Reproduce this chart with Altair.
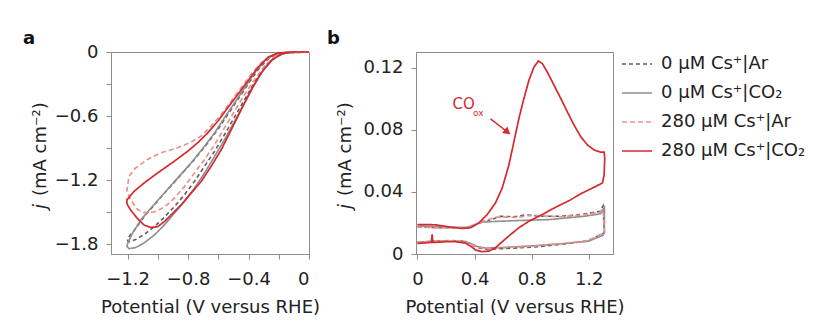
import altair as alt
import pandas as pd

FONT = "DejaVu Sans"

SERIES = ["0 μM Cs⁺|Ar", "0 μM Cs⁺|CO₂", "280 μM Cs⁺|Ar", "280 μM Cs⁺|CO₂"]
COLORS = ["#5e5e5e", "#8f8f8f", "#ee8f8f", "#d42a2e"]
DASHES = [[4, 3], [1, 0], [5, 3], [1, 0]]
WIDTHS = [1.6, 1.7, 1.8, 2.0]

# ---- panel a : (potential V, current density mA cm-2) ----
A_AR0 = [(0, 0), (-0.158, -0.009), (-0.224, -0.044), (-0.291, -0.132), (-0.358, -0.277), (-0.424, -0.44),
         (-0.491, -0.604), (-0.558, -0.77), (-0.624, -0.928), (-0.691, -1.069), (-0.758, -1.211),
         (-0.824, -1.336), (-0.891, -1.447), (-0.958, -1.547), (-1.024, -1.635), (-1.091, -1.708),
         (-1.147, -1.755), (-1.191, -1.777), (-1.2, -1.765), (-1.2, -1.745), (-1.147, -1.651),
         (-1.091, -1.541), (-1.024, -1.431), (-0.936, -1.289), (-0.847, -1.148), (-0.758, -1.006),
         (-0.669, -0.849), (-0.602, -0.723), (-0.536, -0.582), (-0.469, -0.44), (-0.402, -0.299),
         (-0.336, -0.164), (-0.269, -0.063), (-0.202, -0.016), (-0.12, -0.002), (0, 0)]
A_CO0 = [(0, 0), (-0.15, -0.008), (-0.224, -0.047), (-0.291, -0.142), (-0.358, -0.299), (-0.424, -0.472),
         (-0.491, -0.645), (-0.558, -0.818), (-0.624, -0.975), (-0.691, -1.132), (-0.758, -1.274),
         (-0.824, -1.399), (-0.891, -1.509), (-0.958, -1.619), (-1.024, -1.714), (-1.091, -1.786),
         (-1.147, -1.83), (-1.191, -1.84), (-1.205, -1.818), (-1.2, -1.792), (-1.169, -1.698),
         (-1.113, -1.572), (-1.047, -1.462), (-0.958, -1.321), (-0.869, -1.179), (-0.78, -1.038),
         (-0.691, -0.881), (-0.624, -0.755), (-0.558, -0.613), (-0.491, -0.472), (-0.424, -0.33),
         (-0.358, -0.189), (-0.291, -0.079), (-0.224, -0.019), (-0.14, -0.002), (0, 0)]
A_AR280 = [(0, 0), (-0.158, -0.009), (-0.224, -0.038), (-0.291, -0.126), (-0.358, -0.252), (-0.424, -0.393),
           (-0.491, -0.55), (-0.558, -0.708), (-0.624, -0.865), (-0.691, -1.006), (-0.758, -1.132),
           (-0.824, -1.258), (-0.891, -1.368), (-0.958, -1.453), (-1.024, -1.497), (-1.091, -1.503),
           (-1.136, -1.472), (-1.18, -1.384), (-1.205, -1.3), (-1.2, -1.25), (-1.191, -1.164),
           (-1.147, -1.085), (-1.069, -1.006), (-0.98, -0.943), (-0.869, -0.896), (-0.78, -0.843),
           (-0.713, -0.786), (-0.647, -0.692), (-0.58, -0.582), (-0.513, -0.456), (-0.447, -0.33),
           (-0.38, -0.204), (-0.313, -0.094), (-0.247, -0.031), (-0.158, -0.006), (0, 0)]
A_CO280 = [(0, 0), (-0.113, 0), (-0.18, -0.016), (-0.247, -0.079), (-0.313, -0.189), (-0.38, -0.346),
           (-0.447, -0.535), (-0.513, -0.723), (-0.58, -0.912), (-0.647, -1.069), (-0.713, -1.211),
           (-0.78, -1.321), (-0.847, -1.431), (-0.913, -1.525), (-0.958, -1.588), (-1.002, -1.635),
           (-1.047, -1.642), (-1.091, -1.619), (-1.136, -1.557), (-1.18, -1.478), (-1.205, -1.421),
           (-1.205, -1.384), (-1.158, -1.305), (-1.091, -1.226), (-1.002, -1.132), (-0.891, -1.022),
           (-0.802, -0.928), (-0.736, -0.849), (-0.669, -0.755), (-0.602, -0.645), (-0.536, -0.519),
           (-0.469, -0.393), (-0.402, -0.267), (-0.336, -0.142), (-0.269, -0.047), (-0.202, -0.009),
           (-0.113, 0), (0, 0)]

# ---- panel b ----
B_AR0 = [(0, 0.0175), (0.15, 0.0169), (0.35, 0.0169), (0.44, 0.0201), (0.49, 0.0211), (0.58, 0.0243),
         (0.68, 0.024), (0.76, 0.0252), (0.86, 0.0243), (1.0, 0.0243), (1.15, 0.0254), (1.28, 0.0275),
         (1.30, 0.031), (1.31, 0.0137), (1.19, 0.0083), (1.0, 0.0062), (0.82, 0.0045), (0.63, 0.0036),
         (0.49, 0.003), (0.42, 0.0041), (0.37, 0.0062), (0.33, 0.0083), (0.23, 0.0087), (0.12, 0.0083),
         (0, 0.0073)]
B_CO0 = [(0, 0.018), (0.1, 0.0178), (0.25, 0.0172), (0.35, 0.0172), (0.45, 0.0205), (0.55, 0.021),
         (0.7, 0.0215), (0.93, 0.0222), (1.17, 0.0243), (1.28, 0.0258), (1.30, 0.0286), (1.31, 0.03),
         (1.31, 0.015), (1.30, 0.012), (1.2, 0.0083), (1.0, 0.0065), (0.8, 0.0052), (0.6, 0.0042),
         (0.48, 0.0038), (0.42, 0.0048), (0.38, 0.0065), (0.33, 0.0082), (0.2, 0.0085), (0.1, 0.0083),
         (0, 0.0075)]
B_AR280 = [(0, 0.0172), (0.15, 0.0168), (0.35, 0.0168), (0.44, 0.0205), (0.55, 0.0238), (0.7, 0.0236),
           (0.8, 0.0248), (1.0, 0.024), (1.15, 0.025), (1.28, 0.027), (1.3, 0.029), (1.31, 0.014),
           (1.2, 0.0087), (1.0, 0.0066), (0.8, 0.005), (0.6, 0.004), (0.48, 0.0034), (0.42, 0.0045),
           (0.36, 0.0068), (0.3, 0.0085), (0.15, 0.0085), (0, 0.0075)]
B_CO280 = [(0, 0.019), (0.126, 0.0188), (0.22, 0.0175), (0.313, 0.0164), (0.372, 0.0169), (0.43, 0.02),
           (0.489, 0.0254), (0.547, 0.0329), (0.594, 0.0425), (0.641, 0.0574), (0.676, 0.0723),
           (0.711, 0.0873), (0.746, 0.1001), (0.781, 0.1118), (0.816, 0.1203), (0.847, 0.1242),
           (0.875, 0.1225), (0.91, 0.1171), (0.957, 0.1086), (1.004, 0.1001), (1.05, 0.0915),
           (1.097, 0.083), (1.144, 0.0755), (1.191, 0.0702), (1.237, 0.067), (1.284, 0.0655),
           (1.308, 0.0655), (1.312, 0.0617), (1.308, 0.051), (1.296, 0.0457), (1.249, 0.0435),
           (1.156, 0.0393), (1.062, 0.0343), (0.968, 0.0301), (0.875, 0.0254), (0.781, 0.0211),
           (0.711, 0.0169), (0.653, 0.0126), (0.594, 0.0079), (0.547, 0.0041), (0.501, 0.0019),
           (0.454, 0.0015), (0.407, 0.0026), (0.372, 0.0051), (0.337, 0.007), (0.267, 0.0079),
           (0.196, 0.0079), (0.126, 0.0075), (0.108, 0.0075), (0.103, 0.0126), (0.098, 0.0075),
           (0.033, 0.007), (0, 0.0068)]

A_XTICKS = [-1.2, -1.0, -0.8, -0.6, -0.4, -0.2, 0]
A_XLABELS = [-1.2, -0.8, -0.4, 0]
A_YTICKS = [0, -0.3, -0.6, -0.9, -1.2, -1.5, -1.8]
A_YLABELS = [0, -0.6, -1.2, -1.8]
B_XTICKS = [0, 0.2, 0.4, 0.6, 0.8, 1.0, 1.2]
B_XLABELS = [0, 0.4, 0.8, 1.2]
B_YTICKS = [0, 0.02, 0.04, 0.06, 0.08, 0.1, 0.12]
B_YLABELS = [0, 0.04, 0.08, 0.12]

# annotation (panel b)
ANN_TEXT = [{"x": 0.245, "y": 0.093, "t": "CO"}]
ANN_SUB = [{"x": 0.39, "y": 0.089, "t": "ox"}]
ARROW = [{"x": 0.512, "y": 0.087, "x2": 0.631, "y2": 0.0785}]
ARROW_HEAD = [{"x": 0.631, "y": 0.0785}]

def to_df(sets):
    rows = []
    for s, pts in sets:
        for i, (x, y) in enumerate(pts):
            rows.append({"series": s, "idx": i, "x": x, "y": y})
    return pd.DataFrame(rows)

df_a = to_df(zip(SERIES, [A_AR0, A_CO0, A_AR280, A_CO280]))
df_b = to_df(zip(SERIES, [B_AR0, B_CO0, B_AR280, B_CO280]))

W, H = 198, 202
AXC = "#8c8c8c"
XTITLE = "Potential (V versus RHE)"


def label_expr(vals):
    return "indexof([" + ",".join(str(v) for v in vals) + "], datum.value) >= 0 ? datum.label : ''"


def lines(df, xdom, ydom, xt, xl, yt, yl):
    return alt.Chart(df).mark_line(clip=False).encode(
        x=alt.X("x:Q", scale=alt.Scale(domain=xdom, nice=False, zero=False),
                axis=alt.Axis(values=xt, labelExpr=label_expr(xl), format="~g", title=XTITLE)),
        y=alt.Y("y:Q", scale=alt.Scale(domain=ydom, nice=False, zero=False),
                axis=alt.Axis(values=yt, labelExpr=label_expr(yl), format="~g", title=None)),
        color=alt.Color("series:N", scale=alt.Scale(domain=SERIES, range=COLORS),
                        legend=alt.Legend(title=None)),
        strokeDash=alt.StrokeDash("series:N", scale=alt.Scale(domain=SERIES, range=DASHES),
                                  legend=alt.Legend(title=None)),
        strokeWidth=alt.StrokeWidth("series:N", scale=alt.Scale(domain=SERIES, range=WIDTHS), legend=None),
        order="idx:Q",
    )


def decorations(letter, lx):
    one = pd.DataFrame({"t": [letter]})
    let = alt.Chart(one).mark_text(font=FONT, fontSize=18, fontWeight="bold", align="left",
                                   baseline="alphabetic", color="#111").encode(
        x=alt.value(lx), y=alt.value(-8), text="t:N")
    jt = alt.Chart(pd.DataFrame({"t": ["j"]})).mark_text(
        font=FONT, fontSize=18, fontStyle="italic", angle=270, align="left",
        baseline="alphabetic", color="#222").encode(x=alt.value(-65), y=alt.value(157), text="t:N")
    ut = alt.Chart(pd.DataFrame({"t": ["(mA cm⁻²)"]})).mark_text(
        font=FONT, fontSize=18, angle=270, align="left",
        baseline="alphabetic", color="#222").encode(x=alt.value(-65), y=alt.value(144), text="t:N")
    return [let, jt, ut]


panel_a = alt.layer(
    lines(df_a, [-1.31, 0], [-1.89, 0], A_XTICKS, A_XLABELS, A_YTICKS, A_YLABELS),
    *decorations("a", -88),
).properties(width=W, height=H)

ann_red = "#d42a2e"
b_text = alt.Chart(pd.DataFrame(ANN_TEXT)).mark_text(
    font=FONT, fontSize=15, color=ann_red, align="left", baseline="alphabetic").encode(
    x="x:Q", y="y:Q", text="t:N")
b_sub = alt.Chart(pd.DataFrame(ANN_SUB)).mark_text(
    font=FONT, fontSize=9, color=ann_red, align="left", baseline="alphabetic").encode(
    x="x:Q", y="y:Q", text="t:N")
b_arrow = alt.Chart(pd.DataFrame(ARROW)).mark_rule(color=ann_red, strokeWidth=1.5).encode(
    x="x:Q", y="y:Q", x2="x2:Q", y2="y2:Q")
b_head = alt.Chart(pd.DataFrame(ARROW_HEAD)).mark_point(
    shape="triangle-up", filled=True, color=ann_red, size=70, angle=129, opacity=1).encode(
    x="x:Q", y="y:Q")

panel_b = alt.layer(
    lines(df_b, [-0.01, 1.37], [0, 0.13], B_XTICKS, B_XLABELS, B_YTICKS, B_YLABELS),
    b_text, b_sub, b_arrow, b_head,
    *decorations("b", -89),
).properties(width=197, height=H)

chart = alt.hconcat(panel_a, panel_b, spacing=5).properties(
    padding={"left": 22, "top": 29, "right": 0, "bottom": 0}
).configure(font=FONT).configure_view(
    stroke=AXC, strokeWidth=1
).configure_axis(
    domainColor=AXC, tickColor=AXC, tickSize=5, grid=False,
    labelFont=FONT, labelFontSize=18, labelColor="#222",
    titleFont=FONT, titleFontSize=18, titleFontWeight="normal", titleColor="#222",
).configure_axisX(labelPadding=11, titlePadding=10).configure_axisY(labelPadding=8).configure_legend(
    orient="none", legendX=510, legendY=-4, symbolType="stroke", symbolSize=900,
    symbolStrokeWidth=2, labelFont=FONT, labelFontSize=18, labelColor="#222",
    labelOffset=8, rowPadding=4, padding=0,
)

chart.save("out.html", embed_options={"renderer": "svg", "actions": False})
